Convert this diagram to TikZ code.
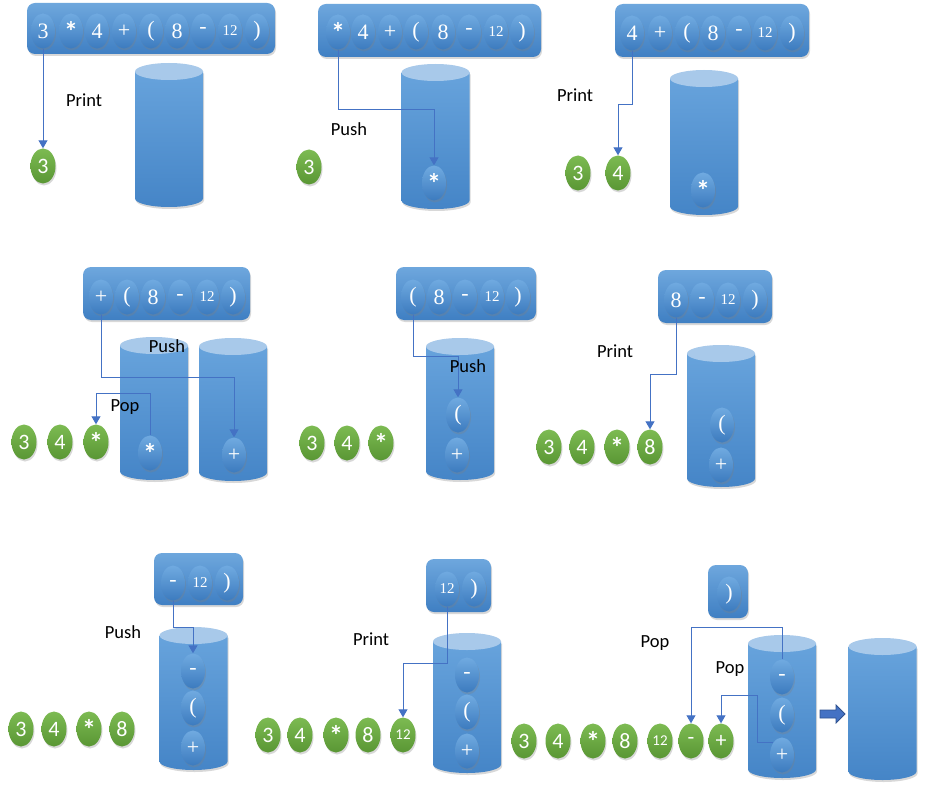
\documentclass[tikz,border=0pt]{standalone}
\usepackage{fontspec}
\setmainfont{Liberation Serif}
\newfontfamily\calibri{Carlito}
\usetikzlibrary{shapes.geometric,shadows,arrows.meta}

\definecolor{tokentop}{HTML}{70AAE0}
\definecolor{tokenbot}{HTML}{3C7BBF}
\definecolor{boxtop}{HTML}{6EA7DD}
\definecolor{boxbot}{HTML}{3F7FC3}
\definecolor{cyltop}{HTML}{A8C9EA}
\definecolor{cylupper}{HTML}{67A3DC}
\definecolor{cyllower}{HTML}{4585C7}
\definecolor{greentop}{HTML}{7CBB52}
\definecolor{greenbot}{HTML}{5A9634}
\definecolor{linkblue}{HTML}{4472C4}
\definecolor{arrowedge}{HTML}{2F528F}

\newcommand{\twelve}{{\fontsize{15}{15}\selectfont 12}}
\newcommand{\startok}{{\calibri\bfseries\fontsize{28}{28}\selectfont *}}
% one stack: centre x, top y, bottom y
\newcommand{\stackcyl}[3]{%
  \path[stackbody] (#1-34,#2) -- (#1-34,#3)
    arc[start angle=180, end angle=360, x radius=34pt, y radius=8.5pt]
    -- (#1+34,#2) -- cycle;
  \fill[stacktop] (#1,#2) ellipse [x radius=34pt, y radius=8.5pt];
}

\tikzset{
  token/.style={ellipse, minimum width=24pt, minimum height=35pt, inner sep=0pt,
    top color=tokentop, bottom color=tokenbot, text=white,
    font=\fontsize{22}{22}\selectfont,
    drop shadow={shadow xshift=1pt, shadow yshift=-2pt, opacity=0.3}},
  outtoken/.style={token, minimum width=25pt, top color=greentop, bottom color=greenbot,
    font=\calibri\fontsize{22}{22}\selectfont},
  queuebox/.style={rounded corners=8pt, top color=boxtop, bottom color=boxbot,
    drop shadow={shadow xshift=1pt, shadow yshift=-2pt, opacity=0.3}},
  stackbody/.style={top color=cylupper, bottom color=cyllower,
    drop shadow={shadow xshift=1pt, shadow yshift=-2pt, opacity=0.3}},
  stacktop/.style={fill=cyltop},
  link/.style={draw=linkblue, line width=1pt, -{Triangle[width=9pt,length=8pt]}},
  steplabel/.style={font=\calibri\fontsize{18.5}{18.5}\selectfont, inner sep=0pt},
  blockarrow/.style={draw=arrowedge, fill=linkblue, line width=0.8pt}
}

\begin{document}
\begin{tikzpicture}[x=1pt, y=-1pt]
        \useasboundingbox (0,0) rectangle (925,786);
        \fill[white] (0,0) rectangle (925,786);
        % input queues
        \path[queuebox] (27,3)    rectangle (275,54);
        \path[queuebox] (318,4)   rectangle (541,57);
        \path[queuebox] (615,4)   rectangle (809,57);
        \path[queuebox] (83,267)  rectangle (250,320);
        \path[queuebox] (396,267) rectangle (536,320);
        \path[queuebox] (658,270) rectangle (772,323);
        \path[queuebox] (154,553) rectangle (243,605);
        \path[queuebox] (426,559) rectangle (491,612);
        \path[queuebox] (708,565) rectangle (748,618);
        % stacks
        \stackcyl{169}{71.5}{198.5}
        \stackcyl{435.5}{72.5}{200.5}
        \stackcyl{704}{78.5}{206.5}
        \stackcyl{154}{345.5}{471.5}
        \stackcyl{233}{346.5}{472.5}
        \stackcyl{460}{346.5}{471.5}
        \stackcyl{721}{353.5}{478.5}
        \stackcyl{193.5}{635.5}{761.5}
        \stackcyl{467}{641.5}{764.5}
        \stackcyl{782}{643.5}{769.5}
        \stackcyl{882.5}{646.5}{771.5}
        % tokens still to read
        \foreach \tok/\x [count=\i] in {3/43, \startok/71, 4/97, +/124, {(}/151, 8/177, -/203, \twelve/230, {)}/257}
          \node[token] (q1t\i) at (\x,31) {\tok};
        \foreach \tok/\x [count=\i] in {\startok/338, 4/363, +/390, {(}/416, 8/443, -/469, \twelve/496, {)}/522}
          \node[token] (q2t\i) at (\x,32) {\tok};
        \foreach \tok/\x [count=\i] in {4/632, +/660, {(}/687, 8/713, -/739, \twelve/765, {)}/792}
          \node[token] (q3t\i) at (\x,33) {\tok};
        \foreach \tok/\x [count=\i] in {+/101, {(}/127, 8/153, -/180, \twelve/207, {)}/233}
          \node[token] (q4t\i) at (\x,297) {\tok};
        \foreach \tok/\x [count=\i] in {{(}/413, 8/439, -/465, \twelve/492, {)}/518}
          \node[token] (q5t\i) at (\x,297) {\tok};
        \foreach \tok/\x [count=\i] in {8/676, -/702, \twelve/728, {)}/755}
          \node[token] (q6t\i) at (\x,300) {\tok};
        \foreach \tok/\x [count=\i] in {-/173, \twelve/200, {)}/227}
          \node[token] (q7t\i) at (\x,583) {\tok};
        \foreach \tok/\x [count=\i] in {\twelve/447, {)}/474}
          \node[token] (q8t\i) at (\x,589) {\tok};
        \node[token] (q9t1) at (729,594) {)};
        % tokens on the stacks
        \node[token] (s2t1) at (434,183) {\startok};
        \node[token] (s3t1) at (703,190) {\startok};
        \node[token] (s4t1) at (150,453) {\startok};
        \node[token] (s4t2) at (234,455) {+};
        \node[token] (s5t1) at (458,415) {(};
        \node[token] (s5t2) at (457,455) {+};
        \node[token] (s6t1) at (722,425) {(};
        \node[token] (s6t2) at (721,465) {+};
        \foreach \tok/\y [count=\i] in {-/671, {(}/708, +/748}
          \node[token] (s7t\i) at (193,\y) {\tok};
        \foreach \tok/\y [count=\i] in {-/675, {(}/712, +/751}
          \node[token] (s8t\i) at (467,\y) {\tok};
        \foreach \tok/\y [count=\i] in {-/677, {(}/715, +/755}
          \node[token] (s9t\i) at (782,\y) {\tok};
        % output
        \node[outtoken] (o1t1) at (43,166) {3};
        \node[outtoken] (o2t1) at (309,167) {3};
        \foreach \tok/\x [count=\i] in {3/578, 4/618}
          \node[outtoken] (o3t\i) at (\x,173) {\tok};
        \foreach \tok/\x [count=\i] in {3/24, 4/60, \startok/96}
          \node[outtoken] (o4t\i) at (\x,442) {\tok};
        \foreach \tok/\x [count=\i] in {3/312, 4/347, \startok/381}
          \node[outtoken] (o5t\i) at (\x,443) {\tok};
        \foreach \tok/\x [count=\i] in {3/549, 4/582, \startok/617, 8/650}
          \node[outtoken] (o6t\i) at (\x,447) {\tok};
        \foreach \tok/\x [count=\i] in {3/21, 4/54, \startok/89, 8/122}
          \node[outtoken] (o7t\i) at (\x,729) {\tok};
        \foreach \tok/\x [count=\i] in {3/268, 4/300, \startok/336, 8/368, \twelve/403}
          \node[outtoken] (o8t\i) at (\x,735) {\tok};
        \foreach \tok/\x [count=\i] in {3/524, 4/558, \startok/593, 8/625, \twelve/660, -/691, +/721}
          \node[outtoken] (o9t\i) at (\x,741) {\tok};
        % moves
        \draw[link] (q1t1.south) -- (o1t1.north);
        \draw[link] (q2t1.south) -- ++(0,60)    -| (s2t1.north);
        \draw[link] (q3t1.south) -- ++(0,54)    -| (o3t2.north);
        \draw[link] (q4t1.south) -- ++(0,62.5)  -| (s4t2.north);
        \draw[link] (s4t1.north) -- ++(0,-41.5) -| (o4t3.north);
        \draw[link] (q5t1.south) -- ++(0,41.5)  -| (s5t1.north);
        \draw[link] (q6t1.south) -- ++(0,57)    -| (o6t4.north);
        \draw[link] (q7t1.south) -- ++(0,26.5)  -| (s7t1.north);
        \draw[link] (q8t1.south) -- ++(0,57)    -| (o8t5.north);
        \draw[link] (s9t1.north) -- ++(0,-31.5) -| (o9t6.north);
        \draw[link] (s9t3.north west) -- ++(-16,0) -- ++(0,-47) -| (o9t7.north);
        % labels
        \node[steplabel] (print1) at (84,100)  {Print};
        \node[steplabel] (push2)  at (349,129) {Push};
        \node[steplabel] (print3) at (575,95)  {Print};
        \node[steplabel] (push4)  at (167,346) {Push};
        \node[steplabel] (pop4)   at (125,407) {Pop};
        \node[steplabel] (push5)  at (468,366) {Push};
        \node[steplabel] (print6) at (615,351) {Print};
        \node[steplabel] (push7)  at (123,632) {Push};
        \node[steplabel] (print8) at (371,639) {Print};
        \node[steplabel] (pop9)   at (655,643) {Pop};
        \node[steplabel] (pop9b)  at (730,669) {Pop};
        % empty stack at the end
        \draw[blockarrow] (820,710) -- (836,710) -- (836,705) -- (845,714)
          -- (836,723) -- (836,718) -- (820,718) -- cycle;
\end{tikzpicture}
\end{document}
